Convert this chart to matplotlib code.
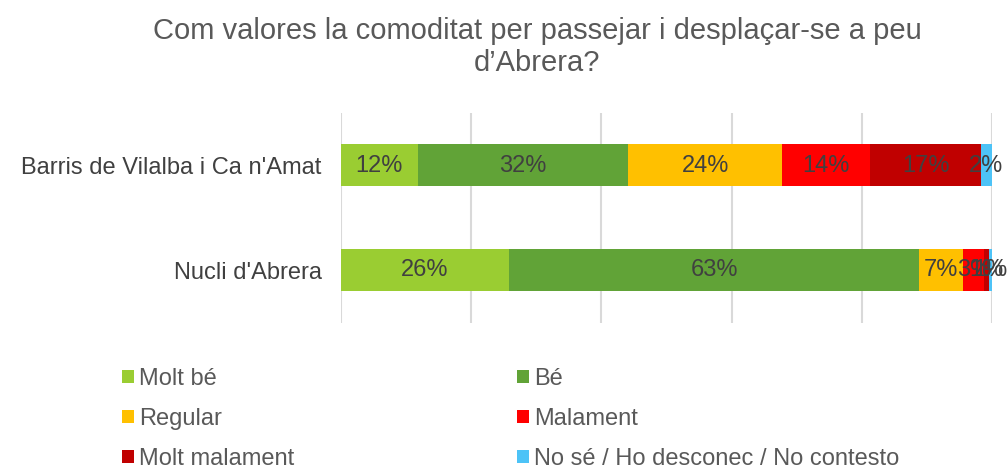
import matplotlib.pyplot as plt
import numpy as np

plt.rcParams['font.family'] = ['Liberation Sans', 'DejaVu Sans']

title = "Com valores la comoditat per passejar i desplaçar-se a peu\nd\u2019Abrera?"
categories = ["Barris de Vilalba i Ca n'Amat", "Nucli d'Abrera"]
answers = ['Molt bé', 'Bé', 'Regular', 'Malament', 'Molt malament',
           'No sé / Ho desconec / No contesto']
colors = ['#9ACD32', '#61A337', '#FFC000', '#FF0000', '#C00000', '#4DC3F7']

# percentages per answer, [Barris, Nucli]
molt_be = [11.8, 25.8]
be = [32.3, 63.0]
regular = [23.7, 6.8]
malament = [13.5, 3.2]
molt_malament = [17.0, 0.7]
no_se = [1.7, 0.6]
series = [molt_be, be, regular, malament, molt_malament, no_se]

fig = plt.figure(figsize=(10.07, 4.69), dpi=100)
ax = fig.add_axes([341 / 1007, (469 - 323) / 469, 651 / 1007, 210 / 469])

y = np.arange(len(categories))
left = np.zeros(len(categories))
handles = []
for name, vals, c in zip(answers, series, colors):
    vals = np.array(vals)
    b = ax.barh(y, vals, left=left, height=0.4, color=c, label=name, zorder=3)
    handles.append(b)
    for yi, l, v in zip(y, left, vals):
        ax.text(l + v / 2, yi, f"{v:.0f}%", ha='center', va='center',
                fontsize=17, color='#404040', zorder=4)
    left += vals

ax.set_xlim(0, 100)
ax.set_ylim(1.5, -0.5)
ax.set_xticks(np.arange(0, 101, 20))
ax.xaxis.grid(True, color='#D9D9D9', linewidth=1.5, zorder=0)
ax.tick_params(axis='x', length=0, labelbottom=False)
ax.tick_params(axis='y', length=0, labelsize=17, labelcolor='#404040', pad=14)
ax.set_yticks(y)
ax.set_yticklabels(categories)
for s in ax.spines.values():
    s.set_visible(False)

fig.text(537 / 1007, 1 - 47 / 469, title, ha='center', va='center',
         fontsize=21, color='#595959', linespacing=1.2)

# legend in two columns, filled row by row
leg_kw = dict(loc='upper left', frameon=False, fontsize=17, labelcolor='#595959',
              handlelength=0.51, handleheight=0.51, handletextpad=0.2,
              labelspacing=0.76, borderpad=0, borderaxespad=0)
for col, xpos in zip([[0, 2, 4], [1, 3, 5]], [122, 517]):
    fig.legend([handles[i] for i in col], [answers[i] for i in col],
               bbox_to_anchor=(xpos / 1007, 1 - 368 / 469), **leg_kw)

fig.savefig('out.png', dpi=100)
